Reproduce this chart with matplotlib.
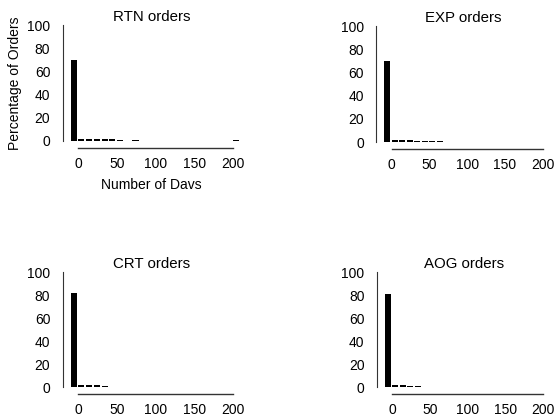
import numpy as np
import matplotlib
matplotlib.use("Agg")
import matplotlib.pyplot as plt

plt.rcParams['font.family'] = ['Liberation Sans', 'DejaVu Sans']
plt.rcParams['font.size'] = 10

# bin start (days); -10 bin holds same-day orders
bins = [-10, 0, 10, 20, 30, 40, 50, 60, 70, 80, 90, 100, 200]

titles = ["RTN orders", "EXP orders", "CRT orders", "AOG orders"]
rtn = [70, 2.0, 1.5, 1.5, 1.5, 1.2, 1.0, 0, 1.0, 0, 0, 0, 1.0]
exp = [70, 2.0, 2.0, 1.5, 1.2, 1.0, 1.0, 0.6, 0.5, 0.4, 0, 0.5, 0]
crt = [82, 1.5, 1.5, 1.5, 1.0, 0, 0, 0, 0, 0, 0, 0, 0]
aog = [81, 2.0, 1.5, 1.0, 1.0, 0.4, 0.4, 0, 0, 0, 0, 0, 0]
series = [rtn, exp, crt, aog]

xticks = [0, 50, 100, 150, 200]
yticks = [0, 20, 40, 60, 80, 100]

fig = plt.figure(figsize=(5.56, 4.18), dpi=100)
boxes = [
    [0.113, 0.663, 0.320, 0.277],
    [0.677, 0.660, 0.313, 0.277],
    [0.113, 0.074, 0.320, 0.275],
    [0.678, 0.074, 0.313, 0.275],
]

for box, title, vals in zip(boxes, titles, series):
    ax = fig.add_axes(box)
    ax.bar(bins, vals, width=8, align='edge', color='black', edgecolor='none')
    ax.set_xlim(-20, 210)
    ax.set_ylim(0, 100)
    ax.set_xticks(xticks)
    ax.set_yticks(yticks)
    ax.spines['top'].set_visible(False)
    ax.spines['right'].set_visible(False)
    ax.spines['bottom'].set_position(('outward', 5))
    ax.spines['bottom'].set_bounds(0, 200)
    ax.spines['bottom'].set_color('#333333')
    ax.spines['bottom'].set_linewidth(1.0)
    ax.spines['left'].set_color('#333333')
    ax.spines['left'].set_linewidth(0.8)
    ax.tick_params(axis='x', length=0, pad=6.5)
    ax.tick_params(axis='y', length=0, pad=9)
    ax.set_title(title, fontsize=10.8, pad=3)

fig.axes[0].set_ylabel("Percentage of Orders", labelpad=4)
fig.axes[0].set_xlabel("Number of Davs", labelpad=5)

fig.savefig("out.png", dpi=100)
